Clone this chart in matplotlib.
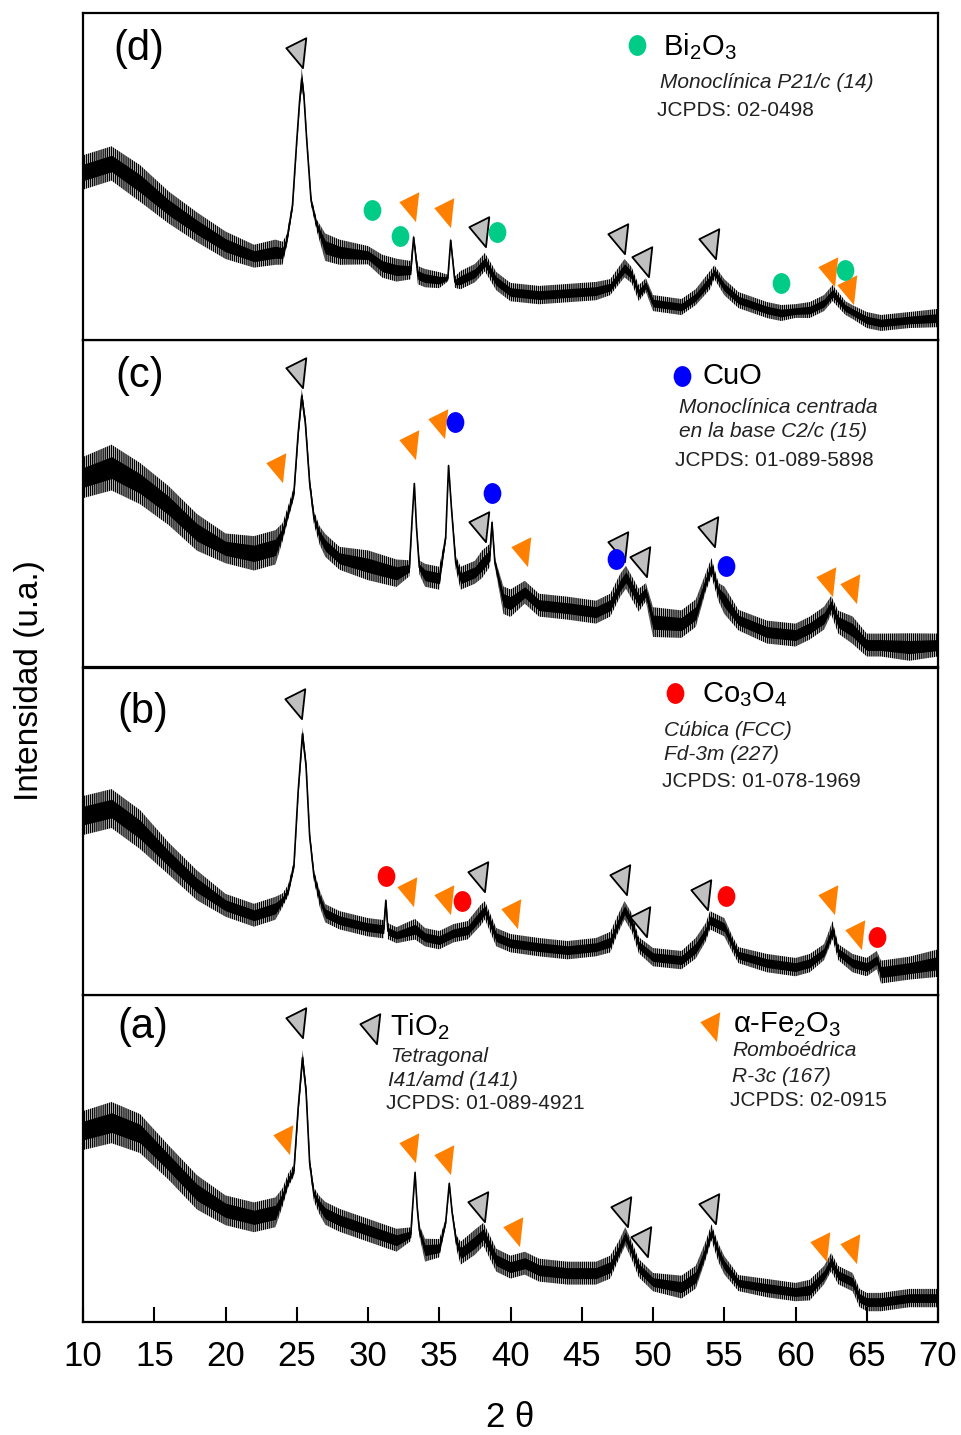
import numpy as np
import matplotlib
matplotlib.use('Agg')
import matplotlib.pyplot as plt
from matplotlib.path import Path

plt.rcParams.update({'font.family': ['Liberation Sans', 'DejaVu Sans'],
                     'mathtext.fontset': 'custom',
                     'mathtext.rm': 'Liberation Sans',
                     'mathtext.it': 'Liberation Sans:italic',
                     'hatch.linewidth': 1.0, 'hatch.color': 'k'})

# ---- diffractograms: 2theta, intensity (u.a.), half-width of the noise band ----
A_X = [10, 12, 14, 16, 18, 20, 22, 23.5, 24.0, 24.4, 24.8, 25.1, 25.4, 25.65, 25.9, 26.2, 26.6, 27, 28, 30, 32,
       33.0, 33.15, 33.3, 33.45, 33.6, 34, 35, 35.45, 35.7, 35.9, 36.2, 36.5, 37.5, 38.1, 39, 40, 41, 42, 44, 46,
       47, 47.6, 48.05, 48.5, 49, 50, 52, 53, 53.7, 54.1, 54.6, 55, 56, 58, 60, 61, 62, 62.5, 63, 64, 64.5, 65,
       66, 68, 70]
A_Y = [192, 200, 189, 160, 130, 112, 105, 110, 125, 142, 152, 215, 265, 232, 160, 128, 117, 109, 102, 92, 82,
       88, 120, 150, 115, 92, 72, 74, 100, 139, 110, 80, 69, 80, 88, 62, 55, 59, 52, 49, 49,
       55, 72, 86, 72, 54, 40, 35, 45, 72, 90, 69, 57, 39, 34, 30, 32, 47, 60, 47, 40, 24, 20,
       20, 24, 24]
A_W = [17, 18, 17, 15, 15, 13, 13, 13, 8, 6, 5, 5, 7, 5, 5, 6, 8, 10, 10, 10, 10,
       6, 2, 2, 2, 5, 10, 8, 3, 2, 3, 6, 10, 11, 10, 10, 10, 10, 10, 10, 10,
       10, 8, 8, 8, 8, 8, 10, 10, 8, 7, 8, 8, 7, 8, 8, 9, 8, 8, 8, 8, 8, 8,
       8, 8, 8]

B_X = [10, 12, 14, 16, 18, 20, 22, 23.5, 24.0, 24.4, 24.8, 25.1, 25.4, 25.65, 25.9, 26.2, 26.6, 27, 28, 30,
       31.1, 31.25, 31.4, 32, 33.3, 34, 35, 36, 37, 37.9, 38.2, 39, 40, 42, 44, 46, 47, 47.5, 48, 48.5, 49,
       50, 52, 53, 53.7, 54, 55, 55.6, 56, 58, 60, 61, 62, 62.6, 63, 64, 65, 65.7, 66, 68, 70]
B_Y = [180, 187, 166, 137, 110, 90, 80, 87, 95, 105, 130, 205, 262, 230, 160, 120, 97, 82, 75, 68,
       66, 95, 64, 60, 66, 58, 55, 62, 65, 80, 85, 58, 52, 48, 45, 48, 53, 70, 85, 73, 50,
       38, 35, 47, 63, 75, 68, 50, 40, 32, 28, 32, 43, 65, 43, 32, 28, 35, 23, 27, 32]
B_W = [17, 17, 17, 14, 13, 10, 10, 10, 6, 5, 4, 4, 6, 4, 4, 5, 7, 8, 8, 8,
       8, 2, 7, 7, 9, 8, 8, 8, 8, 9, 8, 8, 8, 8, 8, 8, 9, 8, 8, 8, 7,
       8, 8, 9, 8, 8, 8, 7, 7, 8, 8, 8, 7, 8, 7, 8, 8, 8, 10, 10, 12]

C_X = [10, 12, 14, 16, 18, 20, 22, 23.5, 24.0, 24.4, 24.8, 25.1, 25.35, 25.6, 25.9, 26.2, 26.6, 27, 28, 30, 32,
       32.9, 33.1, 33.25, 33.4, 33.6, 34, 35, 35.45, 35.65, 35.85, 36.15, 36.5, 37.5, 38.0, 38.55, 38.7, 38.9,
       39.5, 40, 41, 42, 44, 46, 47, 47.7, 48.1, 49, 49.5, 50, 52, 53, 53.7, 54.1, 54.6, 55, 56, 58, 60, 61,
       62, 62.5, 63, 64, 65, 66, 68, 70]
C_Y = [190, 200, 184, 162, 135, 119, 114, 120, 135, 155, 175, 235, 272, 245, 185, 150, 132, 122, 109, 102, 94,
       99, 150, 184, 140, 100, 92, 89, 130, 202, 160, 105, 89, 95, 103, 112, 145, 105,
       67, 64, 75, 62, 59, 55, 62, 82, 90, 67, 75, 45, 43, 54, 85, 100, 75, 67, 47, 35, 32, 39,
       49, 62, 45, 37, 22, 22, 20, 22]
C_W = [18, 20, 18, 17, 16, 13, 15, 15, 8, 6, 5, 5, 6, 5, 5, 6, 8, 10, 10, 13, 12,
       7, 2, 2, 2, 6, 10, 10, 3, 2, 3, 6, 10, 10, 12, 10, 3, 4,
       12, 12, 10, 10, 10, 10, 10, 10, 10, 10, 8, 13, 12, 12, 8, 8, 8, 12, 9, 10, 10, 10,
       10, 8, 10, 12, 10, 10, 12, 10]

D_X = [10, 12, 14, 16, 18, 20, 22, 23.5, 24.0, 24.3, 24.7, 25.0, 25.2, 25.35, 25.5, 25.7, 26.0, 26.4, 27, 28,
       30, 31, 32, 33.0, 33.2, 33.5, 34, 35, 35.6, 35.8, 36.1, 36.5, 37.5, 38.2, 39, 40, 42, 44, 46, 47, 48.0,
       48.5, 49, 49.5, 50, 52, 53, 54, 54.3, 55, 56, 58, 59, 60, 61, 62, 62.6, 63.5, 64, 65, 66, 68, 70]
D_Y = [168, 177, 157, 133, 113, 95, 84, 88, 87, 100, 135, 200, 240, 262, 245, 200, 140, 115, 93, 88,
       85, 74, 70, 70, 103, 65, 62, 60, 62, 100, 58, 60, 67, 78, 59, 48, 45, 47, 49, 53, 72,
       65, 47, 55, 37, 33, 43, 60, 68, 53, 40, 30, 27, 29, 30, 37, 47, 32, 28, 20, 17, 20, 22]
D_W = [15, 15, 16, 14, 13, 12, 10, 11, 10, 5, 4, 3, 4, 10, 4, 3, 4, 5, 12, 11,
       8, 10, 10, 8, 2, 8, 8, 7, 3, 2, 5, 8, 8, 8, 8, 8, 8, 8, 8, 7, 8,
       7, 7, 6, 7, 7, 7, 8, 6, 7, 7, 7, 7, 6, 7, 7, 7, 6, 6, 7, 7, 7, 8]

# ---- peak markers (2theta, height) per phase and panel ----
TIO2 = {'a': [(25.09, 302), (37.86, 117), (47.9, 112), (49.3, 82), (54.04, 115)],
        'b': [(24.99, 294), (37.85, 120), (47.8, 117), (49.2, 75), (53.5, 102)],
        'c': [(25.09, 297), (37.9, 142), (47.68, 122), (49.2, 107), (54.0, 137)],
        'd': [(25.09, 290), (37.9, 110), (47.68, 103), (49.37, 80), (54.1, 98)]}
FE2O3 = {'a': [(24.2, 185), (33.0, 177), (35.45, 164), (40.3, 92), (61.84, 77), (63.93, 75)],
         'b': [(32.9, 105), (35.5, 97), (40.2, 83), (62.42, 97), (64.3, 62)],
         'c': [(23.7, 202), (33.0, 225), (35.05, 246), (40.9, 117), (62.3, 87), (63.93, 80)],
         'd': [(33.0, 135), (35.45, 129), (62.42, 70), (63.75, 52)]}
CO3O4_B = [(31.23, 119), (36.57, 94), (55.12, 99), (65.74, 58)]
CUO_C = [(36.1, 246), (38.72, 175), (47.38, 108), (55.12, 101)]
BI2O3_D = [(30.3, 130), (32.25, 104), (39.07, 108), (58.98, 57), (63.47, 70)]

GREY = '#c0c0c0'; ORANGE = '#ff8000'; GREEN = '#00cc88'; BLUE = '#0000ff'; RED = '#ff0000'; TXT = '#222222'

TRI = Path([(-12.2, 3.3), (7.8, 13.3), (4.5, -16.7), (-12.2, 3.3)],
           [Path.MOVETO, Path.LINETO, Path.LINETO, Path.CLOSEPOLY])
_c = Path.unit_circle()
OVAL = Path(_c.vertices * np.array([0.85, 1.0]), _c.codes)
TRI_MS = 24
OVAL_MS = 15

STYLES = {'grey': dict(marker=TRI, ms=TRI_MS, mfc=GREY, mec='k', mew=1.3),
          'orange': dict(marker=TRI, ms=TRI_MS, mfc=ORANGE, mec='none'),
          'green': dict(marker=OVAL, ms=OVAL_MS, mfc=GREEN, mec='none'),
          'blue': dict(marker=OVAL, ms=OVAL_MS, mfc=BLUE, mec='none'),
          'red': dict(marker=OVAL, ms=OVAL_MS, mfc=RED, mec='none')}

fig = plt.figure(figsize=(9.61, 14.35), dpi=100)
L, W, H = 0.0864, 0.8897, 0.2279
bottoms = {'a': 0.07875, 'b': 0.3066, 'c': 0.5352, 'd': 0.7631}
axes = {}
for k, b in bottoms.items():
    axes[k] = fig.add_axes([L, b, W, H])

data = {'a': (A_X, A_Y, A_W), 'b': (B_X, B_Y, B_W), 'c': (C_X, C_Y, C_W), 'd': (D_X, D_Y, D_W)}


def put(ax, pts, style):
    for x, y in pts:
        ax.plot([x], [y], ls='none', zorder=5, clip_on=False, **STYLES[style])


def legend_mark(ax, fx, fy, style):
    ax.plot([fx], [fy], ls='none', transform=ax.transAxes, clip_on=False, zorder=6, **STYLES[style])


for k, ax in axes.items():
    x, y, w = (np.array(v, float) for v in data[k])
    # dense core of the noisy trace + striped fringe for the spikes
    ax.fill_between(x, y - 0.55 * w, y + 0.55 * w, color='k', lw=0, zorder=3)
    ax.fill_between(x, y - 1.15 * w, y + 1.15 * w, facecolor='none', edgecolor='k', hatch='||||||||',
                    lw=0, zorder=3)
    ax.plot(x, y, color='k', lw=1.2, zorder=3)
    put(ax, TIO2[k], 'grey')
    put(ax, FE2O3[k], 'orange')
    ax.set_xlim(10, 70)
    ax.set_ylim(0, 328)
    ax.set_yticks([])
    for s in ax.spines.values():
        s.set_linewidth(1.6)
    if k == 'a':
        ax.set_xticks(np.arange(10, 71, 5))
        ax.tick_params(axis='x', direction='in', length=11, width=1.5, pad=13, labelsize=25)
    else:
        ax.set_xticks([])

put(axes['b'], CO3O4_B, 'red')
put(axes['c'], CUO_C, 'blue')
put(axes['d'], BI2O3_D, 'green')

# panel labels
for k, (fx, fy) in {'a': (0.070, 0.902), 'b': (0.070, 0.866), 'c': (0.0667, 0.890), 'd': (0.0655, 0.890)}.items():
    axes[k].text(fx, fy, f'({k})', transform=axes[k].transAxes, fontsize=30, ha='center', va='center')


def block(ax, fx, fy, title, lines, dy):
    ax.text(fx, fy, title, transform=ax.transAxes, fontsize=21, ha='left', va='center', color='k')
    for i, (t, it, dx) in enumerate(lines):
        ax.text(fx + dx, fy - dy[i], t, transform=ax.transAxes, fontsize=15, ha='left', va='center',
                color=TXT, style='italic' if it else 'normal')


ax = axes['d']
legend_mark(ax, 0.648, 0.902, 'green')
block(ax, 0.678, 0.896, r'Bi$_\mathregular{2}$O$_\mathregular{3}$',
      [('Monoclínica P21/c (14)', True, -0.003), ('JCPDS: 02-0498', False, -0.007)], [0.109, 0.195])

ax = axes['c']
legend_mark(ax, 0.7006, 0.890, 'blue')
block(ax, 0.725, 0.890, 'CuO',
      [('Monoclínica centrada', True, -0.028), ('en la base C2/c (15)', True, -0.028),
       ('JCPDS: 01-089-5898', False, -0.033)], [0.098, 0.171, 0.260])

ax = axes['b']
legend_mark(ax, 0.692, 0.924, 'red')
block(ax, 0.724, 0.918, r'Co$_\mathregular{3}$O$_\mathregular{4}$',
      [('Cúbica (FCC)', True, -0.044), ('Fd-3m (227)', True, -0.044), ('JCPDS: 01-078-1969', False, -0.047)],
      [0.110, 0.183, 0.266])

ax = axes['a']
legend_mark(ax, 0.338, 0.902, 'grey')
block(ax, 0.359, 0.902, r'TiO$_\mathregular{2}$',
      [('Tetragonal', True, 0.0), ('I41/amd (141)', True, -0.002), ('JCPDS: 01-089-4921', False, -0.005)],
      [0.089, 0.165, 0.235])
legend_mark(ax, 0.7357, 0.908, 'orange')
block(ax, 0.760, 0.908, r'α-Fe$_\mathregular{2}$O$_\mathregular{3}$',
      [('Romboédrica', True, -0.001), ('R-3c (167)', True, -0.001), ('JCPDS: 02-0915', False, -0.003)],
      [0.079, 0.156, 0.232])

fig.text(0.0312, 0.526, 'Intensidad (u.a.)', rotation=90, fontsize=24, ha='center', va='center')
fig.text(0.5307, 0.0125, '2 θ', fontsize=25, ha='center', va='center')

fig.savefig('out.png', dpi=100)
